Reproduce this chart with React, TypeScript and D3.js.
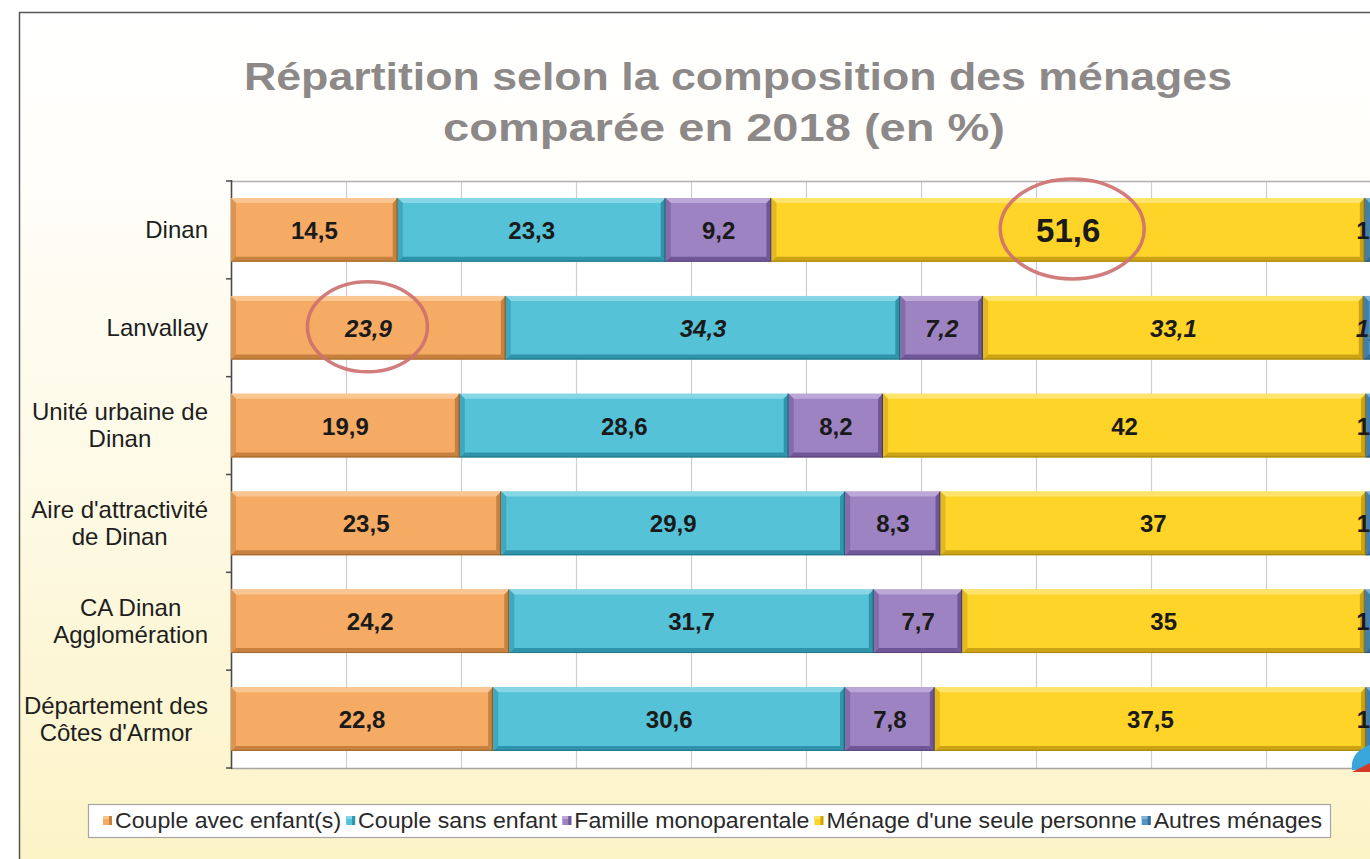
import React, { useEffect, useRef } from "react";
import * as d3 from "d3";

const categories = [
  "Dinan",
  "Lanvallay",
  "Unité urbaine de Dinan",
  "Aire d'attractivité de Dinan",
  "CA Dinan Agglomération",
  "Département des Côtes d'Armor",
];
const categoryLines = [
  ["Dinan"],
  ["Lanvallay"],
  ["Unité urbaine de", "Dinan"],
  ["Aire d'attractivité", "de Dinan"],
  ["CA Dinan", "Agglomération"],
  ["Département des", "Côtes d'Armor"],
];
const seriesNames = [
  "Couple avec enfant(s)",
  "Couple sans enfant",
  "Famille monoparentale",
  "Ménage d'une seule personne",
  "Autres ménages",
];
const coupleAvecEnfants = [14.5, 23.9, 19.9, 23.5, 24.2, 22.8];
const coupleSansEnfant = [23.3, 34.3, 28.6, 29.9, 31.7, 30.6];
const familleMonoparentale = [9.2, 7.2, 8.2, 8.3, 7.7, 7.8];
const menageSeul = [51.6, 33.1, 42, 37, 35, 37.5];
const autresMenages = [1.4, 1.5, 1.3, 1.3, 1.4, 1.3];
const xTicks = [0, 10, 20, 30, 40, 50, 60, 70, 80, 90, 100];
const titleLines = ["Répartition selon la composition des ménages", "comparée en 2018 (en %)"];

const palette = [
  { base: "#F5AB64", light: "#F9C590", dark: "#C7813F", edge: "#8a5a2a" },
  { base: "#55C2D8", light: "#86D6E6", dark: "#2F93A9", edge: "#1f6676" },
  { base: "#9D83C1", light: "#BBA8D7", dark: "#6F5797", edge: "#4d3b6a" },
  { base: "#FFD428", light: "#FFE46C", dark: "#CBA315", edge: "#8f720c" },
  { base: "#5595C5", light: "#80B3D8", dark: "#346C96", edge: "#234a66" },
];

const FONT = "'Liberation Sans', Arial, sans-serif";

export default function App() {
  const ref = useRef<SVGSVGElement | null>(null);

  useEffect(() => {
    const svg = d3.select(ref.current);
    svg.selectAll("*").remove();
    const W = 1370, H = 859;

    const defs = svg.append("defs");
    const bg = defs.append("linearGradient").attr("id", "bgGrad").attr("x1", 0).attr("y1", 0).attr("x2", 0).attr("y2", 1);
    bg.append("stop").attr("offset", "0").attr("stop-color", "#ffffff");
    bg.append("stop").attr("offset", "0.18").attr("stop-color", "#fffefa");
    bg.append("stop").attr("offset", "0.6").attr("stop-color", "#fdf9e2");
    bg.append("stop").attr("offset", "1").attr("stop-color", "#fcf3c6");

    svg.append("rect").attr("x", 0).attr("y", 0).attr("width", W).attr("height", H).attr("fill", "#ffffff");
    svg.append("rect").attr("x", 19).attr("y", 12).attr("width", W).attr("height", H).attr("fill", "url(#bgGrad)");
    // frame
    svg.append("path").attr("d", `M19.5,${H + 2} L19.5,12.5 L${W + 2},12.5`).attr("fill", "none").attr("stroke", "#555").attr("stroke-width", 1.5);

    // title
    const titleLens = [988, 562];
    const titleX = [738, 724];
    titleLines.forEach((t, i) => {
      svg.append("text")
        .attr("x", titleX[i]).attr("y", 90 + i * 51)
        .attr("text-anchor", "middle")
        .attr("font-family", FONT).attr("font-weight", "bold").attr("font-size", 38)
        .attr("fill", "#8d8989")
        .attr("textLength", titleLens[i]).attr("lengthAdjust", "spacingAndGlyphs")
        .text(t);
    });

    const x = d3.scaleLinear().domain([0, 100]).range([231, 1381]);
    const y = d3.scaleBand<string>().domain(categories).range([181, 768]).paddingInner(0.35).paddingOuter(0.175);
    const step = y.step();

    // plot area
    svg.append("rect").attr("x", x(0)).attr("y", 181).attr("width", x(100) - x(0)).attr("height", 768 - 181).attr("fill", "#ffffff");
    svg.append("g").selectAll("line").data(xTicks.slice(1)).join("line")
      .attr("x1", (d) => x(d) + 0.5).attr("x2", (d) => x(d) + 0.5)
      .attr("y1", 181).attr("y2", 768)
      .attr("stroke", "#d3cdcd").attr("stroke-width", 1.2);
    svg.append("line").attr("x1", x(0)).attr("x2", x(100)).attr("y1", 181.5).attr("y2", 181.5).attr("stroke", "#b4afaf").attr("stroke-width", 1.5);
    svg.append("line").attr("x1", x(0)).attr("x2", x(100)).attr("y1", 768.5).attr("y2", 768.5).attr("stroke", "#a8a3a3").attr("stroke-width", 1.5);
    // y axis
    svg.append("line").attr("x1", x(0) + 0.5).attr("x2", x(0) + 0.5).attr("y1", 180).attr("y2", 769).attr("stroke", "#4a4a4a").attr("stroke-width", 1.6);
    const boundaries = d3.range(categories.length + 1).map((i) => 181 + i * step);
    svg.append("g").selectAll("line").data(boundaries).join("line")
      .attr("x1", x(0) - 5).attr("x2", x(0))
      .attr("y1", (d) => d).attr("y2", (d) => d)
      .attr("stroke", "#4a4a4a").attr("stroke-width", 1.5);

    // stacked bars
    const seriesValues = [coupleAvecEnfants, coupleSansEnfant, familleMonoparentale, menageSeul, autresMenages];
    const table = categories.map((c, i) => {
      const row: any = { cat: c };
      seriesNames.forEach((s, k) => (row[s] = seriesValues[k][i]));
      return row;
    });
    const stack = d3.stack<any>().keys(seriesNames)(table);
    const b = 5;
    const barG = svg.append("g");
    stack.forEach((layer, k) => {
      const col = palette[k];
      layer.forEach((seg, i) => {
        const cat = categories[i];
        const x0 = x(seg[0]), x1 = x(seg[1]);
        const y0 = y(cat)!, h = y.bandwidth(), y1 = y0 + h;
        const g = barG.append("g");
        g.append("rect").attr("x", x0).attr("y", y0).attr("width", x1 - x0).attr("height", h).attr("fill", col.base);
        g.append("polygon").attr("points", `${x0},${y0} ${x1},${y0} ${x1 - b},${y0 + b} ${x0 + b},${y0 + b}`).attr("fill", col.light);
        g.append("polygon").attr("points", `${x0},${y1} ${x1},${y1} ${x1 - b},${y1 - b} ${x0 + b},${y1 - b}`).attr("fill", col.dark);
        g.append("polygon").attr("points", `${x0},${y0} ${x0 + b},${y0 + b} ${x0 + b},${y1 - b} ${x0},${y1}`).attr("fill", col.dark).attr("opacity", 0.55);
        g.append("polygon").attr("points", `${x1},${y0} ${x1 - b},${y0 + b} ${x1 - b},${y1 - b} ${x1},${y1}`).attr("fill", col.dark);
        g.append("line").attr("x1", x1 - 0.5).attr("x2", x1 - 0.5).attr("y1", y0).attr("y2", y1).attr("stroke", col.edge).attr("stroke-width", 1.5);
        g.append("line").attr("x1", x0).attr("x2", x1).attr("y1", y1 - 0.5).attr("y2", y1 - 0.5).attr("stroke", col.edge).attr("stroke-width", 1).attr("opacity", 0.6);
      });
    });

    // value labels
    const labelG = svg.append("g");
    stack.forEach((layer, k) => {
      layer.forEach((seg, i) => {
        const cat = categories[i];
        const v = seriesValues[k][i];
        const cx = (x(seg[0]) + x(seg[1])) / 2;
        const cy = y(cat)! + y.bandwidth() / 2;
        const big = i === 0 && k === 3;
        labelG.append("text")
          .attr("x", cx).attr("y", cy + (big ? 12 : 9))
          .attr("text-anchor", "middle")
          .attr("font-family", FONT).attr("font-weight", "bold")
          .attr("font-style", i === 1 ? "italic" : "normal")
          .attr("font-size", big ? 33 : 24)
          .attr("fill", "#1a1a1a")
          .text(String(v).replace(".", ","));
      });
    });

    // highlight ellipses
    const hl = [
      { cat: 0, ser: 3, rx: 72, ry: 50, dx: 4 },
      { cat: 1, ser: 0, rx: 60, ry: 45, dx: -1 },
    ];
    hl.forEach((h) => {
      const seg = stack[h.ser][h.cat];
      const cx = (x(seg[0]) + x(seg[1])) / 2;
      const cy = y(categories[h.cat])! + y.bandwidth() / 2;
      svg.append("ellipse").attr("cx", cx + h.dx).attr("cy", cy - 1).attr("rx", h.rx).attr("ry", h.ry)
        .attr("fill", "none").attr("stroke", "#cd6f6f").attr("stroke-width", 3.5).attr("opacity", 0.9);
    });

    // category labels
    categoryLines.forEach((lines, i) => {
      const cy = y(categories[i])! + y.bandwidth() / 2;
      const texts = lines.map((l, j) =>
        svg.append("text")
          .attr("y", cy + 8 + (j - (lines.length - 1) / 2) * 27)
          .attr("text-anchor", "middle")
          .attr("font-family", FONT).attr("font-size", 24).attr("fill", "#1e1e1e")
          .text(l)
      );
      const maxW = d3.max(texts, (t) => (t.node() as SVGTextElement).getComputedTextLength()) || 0;
      texts.forEach((t) => t.attr("x", 208 - maxW / 2));
    });

    // legend
    svg.append("rect").attr("x", 88.5).attr("y", 804.5).attr("width", 1242).attr("height", 33)
      .attr("fill", "#ffffff").attr("stroke", "#a9a5a5").attr("stroke-width", 1.2);
    let lx = 103;
    seriesNames.forEach((s, k) => {
      const col = palette[k];
      svg.append("rect").attr("x", lx).attr("y", 816).attr("width", 9).attr("height", 9).attr("fill", col.base);
      svg.append("rect").attr("x", lx).attr("y", 816).attr("width", 9).attr("height", 3).attr("fill", col.light);
      svg.append("rect").attr("x", lx + 6).attr("y", 816).attr("width", 3).attr("height", 9).attr("fill", col.dark);
      const t = svg.append("text").attr("x", lx + 12).attr("y", 828)
        .attr("font-family", FONT).attr("font-size", 21.5).attr("fill", "#2a2a2a").text(s);
      const w = (t.node() as SVGTextElement).getComputedTextLength() * 1.075;
      t.attr("textLength", w).attr("lengthAdjust", "spacingAndGlyphs");
      lx = lx + 12 + w + 5;
    });

    // small corner logo
    svg.append("path").attr("d", "M1352,770 Q1350,752 1370,745 L1370,770 Z").attr("fill", "#3aa6dc");
    svg.append("path").attr("d", "M1352,772 L1370,763 L1370,772 Z").attr("fill", "#d43a2a");
  }, []);

  return (
    <div style={{ position: "absolute", left: 0, top: 0, width: 1370, height: 859, overflow: "hidden" }}>
      <svg ref={ref} width={1370} height={859} style={{ display: "block" }} />
    </div>
  );
}
